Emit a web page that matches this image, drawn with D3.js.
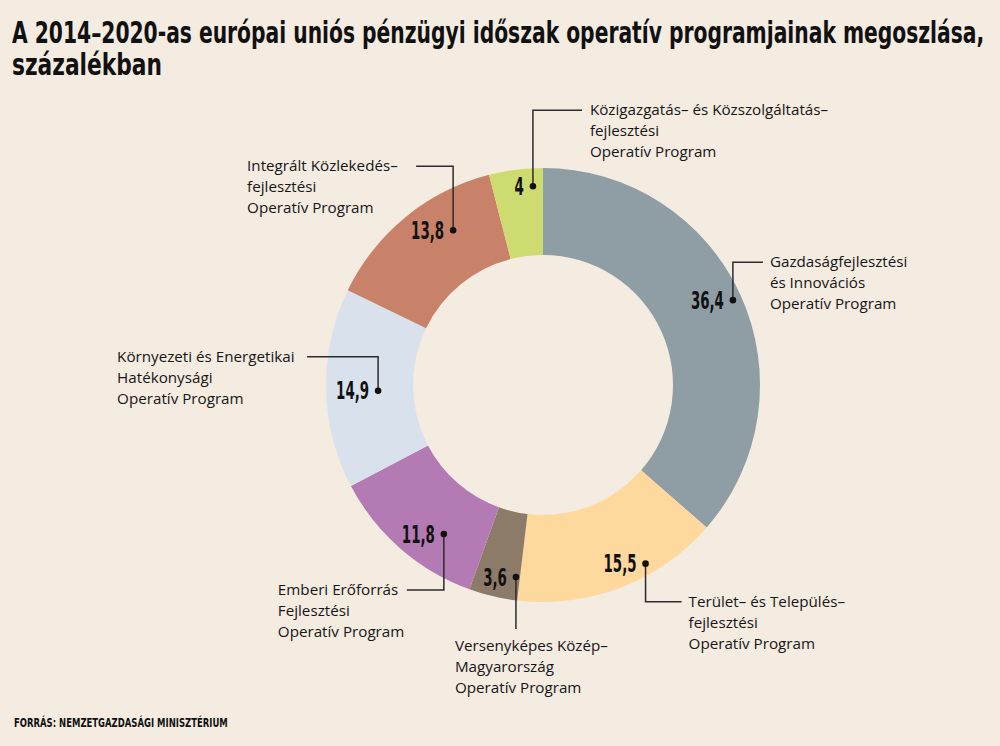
<!DOCTYPE html>
<html>
<head>
<meta charset="utf-8">
<script src="https://cdn.jsdelivr.net/npm/d3@7"></script>
<style>
  html, body { margin: 0; padding: 0; background: #f4ebe1; }
  svg { display: block; }
  .title { font-family: "Liberation Sans Narrow", "DejaVu Sans Condensed", "DejaVu Sans", sans-serif; font-weight: bold; fill: #111; }
  .lbl { font-family: "Open Sans", "Noto Sans", sans-serif; font-size: 15.2px; fill: #161616; }
  .val { font-family: "Liberation Sans Narrow", "DejaVu Sans Condensed", "DejaVu Sans", sans-serif; font-weight: bold; font-size: 24px; fill: #111; }
  .src { font-family: "Liberation Sans Narrow", "DejaVu Sans Condensed", "DejaVu Sans", sans-serif; font-weight: bold; font-size: 13px; fill: #111; }
</style>
</head>
<body>
<svg id="chart"></svg>
<script>
// data, clockwise from 12 o'clock
const programs = [
  ["Gazdaságfejlesztési", "és Innovációs", "Operatív Program"],
  ["Terület– és Település–", "fejlesztési", "Operatív Program"],
  ["Versenyképes Közép–", "Magyarország", "Operatív Program"],
  ["Emberi Erőforrás", "Fejlesztési", "Operatív Program"],
  ["Környezeti és Energetikai", "Hatékonysági", "Operatív Program"],
  ["Integrált Közlekedés–", "fejlesztési", "Operatív Program"],
  ["Közigazgatás– és Közszolgáltatás–", "fejlesztési", "Operatív Program"]
];
const shares = [36.4, 15.5, 3.6, 11.8, 14.9, 13.8, 4];
const colors = ["#8f9da5", "#fed89c", "#8d7b69", "#b47ab3", "#d9e2ec", "#c8826a", "#cedb70"];

const titleLines = [
  "A 2014–2020-as európai uniós pénzügyi időszak operatív programjainak megoszlása,",
  "százalékban"
];
const sourceText = "FORRÁS: NEMZETGAZDASÁGI MINISZTÉRIUM";

// callout layout: dot radius / angle shift, elbow and label offsets from the dot
const callouts = [
  { r: 208, shift: 0.4,  elbow: -38, hx: 30,  lx: 37,   ly: -33 },
  { r: 206, shift: -8.8, elbow: 38,  hx: 36,  lx: 43,   ly: 43 },
  { r: 194, shift: -5.3, elbow: 52,  hx: 0,   lx: -61,  ly: 74 },
  { r: 179, shift: -7.4, elbow: 56,  hx: -37, lx: -166, ly: 61 },
  { r: 165, shift: -1.1, elbow: -34, hx: -71, lx: -261, ly: -29 },
  { r: 179, shift: 9.1,  elbow: -64, hx: -37, lx: -206, ly: -59 },
  { r: 199, shift: 4.3,  elbow: -76, hx: 49,  lx: 57,   ly: -71 }
];

const width = 1000, height = 746;
const cx = 543, cy = 385, outerR = 217, innerR = 130;

const svg = d3.select("#chart").attr("width", width).attr("height", height);

svg.append("rect").attr("width", width).attr("height", height).attr("fill", "#f4ebe1");

// squeeze a text horizontally so it spans the given width
function fitWidth(sel, x, y, w) {
  sel.each(function () {
    const len = this.getComputedTextLength();
    d3.select(this).attr("transform", `translate(${x}, ${y}) scale(${w / len}, 1)`);
  });
}

const titleWidths = [973, 150];
svg.selectAll("text.title")
  .data(titleLines).join("text")
  .attr("class", "title")
  .attr("font-size", 30)
  .text(d => d)
  .each(function (d, i) {
    fitWidth(d3.select(this), 12, 43 + i * 32, titleWidths[i]);
  });

svg.append("text")
  .attr("class", "src")
  .text(sourceText)
  .call(fitWidth, 14, 727, 214);

const pie = d3.pie().sort(null).value(d => d);
const arcs = pie(shares);
const arc = d3.arc().innerRadius(innerR).outerRadius(outerR);

const chart = svg.append("g").attr("transform", `translate(${cx}, ${cy})`);

chart.selectAll("path")
  .data(arcs).join("path")
  .attr("d", arc)
  .attr("fill", (d, i) => colors[i]);

// callouts
const dotPos = arcs.map((a, i) => {
  const ang = (a.startAngle + a.endAngle) / 2 + callouts[i].shift * Math.PI / 180;
  const r = callouts[i].r;
  return [Math.sin(ang) * r, -Math.cos(ang) * r];
});

const fmt = v => String(v).replace(".", ",");

const co = chart.selectAll("g.callout")
  .data(arcs).join("g")
  .attr("class", "callout")
  .attr("transform", (d, i) => `translate(${dotPos[i][0]}, ${dotPos[i][1]})`);

co.append("path")
  .attr("fill", "none")
  .attr("stroke", "#2b2b2b")
  .attr("stroke-width", 1.5)
  .attr("d", (d, i) => {
    const c = callouts[i];
    return `M0,0V${c.elbow}H${c.hx}`;
  });

co.append("circle")
  .attr("r", 3.3)
  .attr("fill", "#111");

co.append("text")
  .attr("class", "val")
  .attr("text-anchor", "end")
  .attr("transform", "translate(-9, 8.5) scale(0.62, 1)")
  .text(d => fmt(d.data));

co.each(function (d, i) {
  const c = callouts[i];
  d3.select(this).append("text")
    .attr("class", "lbl")
    .selectAll("tspan")
    .data(programs[i]).join("tspan")
    .attr("x", c.lx)
    .attr("y", (t, j) => c.ly + j * 21)
    .text(t => t);
});
</script>
</body>
</html>
